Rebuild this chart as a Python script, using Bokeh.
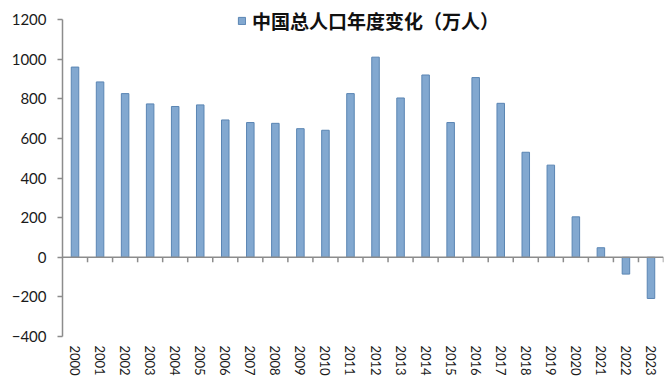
from bokeh.plotting import figure
from bokeh.models import Range1d, FixedTicker, Span, Legend, LegendItem, ColumnDataSource
from bokeh.embed import file_html
from bokeh.resources import INLINE

years = ["2000", "2001", "2002", "2003", "2004", "2005", "2006", "2007",
         "2008", "2009", "2010", "2011", "2012", "2013", "2014", "2015",
         "2016", "2017", "2018", "2019", "2020", "2021", "2022", "2023"]
change = [960, 885, 826, 774, 761, 769, 693, 680, 676, 649, 641, 826,
          1010, 804, 920, 680, 907, 777, 530, 465, 204, 48, -85, -208]
y_ticks = [-400, -200, 0, 200, 400, 600, 800, 1000, 1200]
series_name = "中国总人口年度变化（万人）"

xs = list(range(len(years)))
bounds = [i + 0.5 for i in xs]

# headroom above the top tick so the legend sits inside the plot frame
headroom = 96

p = figure(width=667, height=385,
           x_range=Range1d(-0.5, len(years) - 0.5),
           y_range=Range1d(y_ticks[0], y_ticks[-1] + headroom),
           output_backend="svg", toolbar_location=None,
           min_border_left=62, min_border_right=4,
           min_border_top=0, min_border_bottom=49)

p.xgrid.visible = False
p.ygrid.visible = False
p.outline_line_color = None
p.background_fill_color = "white"
p.border_fill_color = "white"

src = ColumnDataSource(dict(x=xs, top=change))
r = p.vbar(x="x", top="top", width=0.3, source=src,
           fill_color="#82a8d0", line_color="#5a85b3", line_width=1)

# zero line acting as the category axis
p.add_layout(Span(location=0, dimension="width", line_color="#8c8c8c", line_width=1.5))
p.segment(x0=bounds, y0=[0] * len(bounds), x1=bounds, y1=[-25] * len(bounds),
          line_color="#8c8c8c", line_width=1.5)

# x labels (below the frame)
xa = p.xaxis[0]
xa.ticker = FixedTicker(ticks=xs)
xa.major_label_overrides = {i: y for i, y in zip(xs, years)}
xa.major_label_orientation = "vertical"
xa.axis_line_color = None
xa.major_tick_line_color = None
xa.minor_tick_line_color = None
xa.major_tick_out = 0
xa.major_label_standoff = 9
xa.major_label_text_font = "Lato"
xa.major_label_text_font_size = "13px"
xa.major_label_text_color = "#1a1a1a"

# y axis
ya = p.yaxis[0]
ya.ticker = FixedTicker(ticks=y_ticks)
ya.bounds = (y_ticks[0], y_ticks[-1])
ya.axis_line_color = "#8c8c8c"
ya.axis_line_width = 1.5
ya.major_tick_line_color = "#8c8c8c"
ya.major_tick_line_width = 1.5
ya.major_tick_out = 5
ya.major_tick_in = 0
ya.minor_tick_line_color = None
ya.major_label_standoff = 11
ya.major_label_text_font = "Lato"
ya.major_label_text_font_size = "15px"
ya.major_label_text_color = "#1a1a1a"

legend = Legend(items=[LegendItem(label=series_name, renderers=[r])],
                location=(175, 302),
                label_text_font="Noto Sans CJK SC",
                label_text_font_style="bold",
                label_text_font_size="19px",
                label_text_color="#111111",
                glyph_width=9, glyph_height=9,
                label_standoff=6, padding=0, margin=0, spacing=0,
                border_line_color=None, background_fill_alpha=0)
p.add_layout(legend)

open("out.html", "w").write(file_html(p, INLINE))
